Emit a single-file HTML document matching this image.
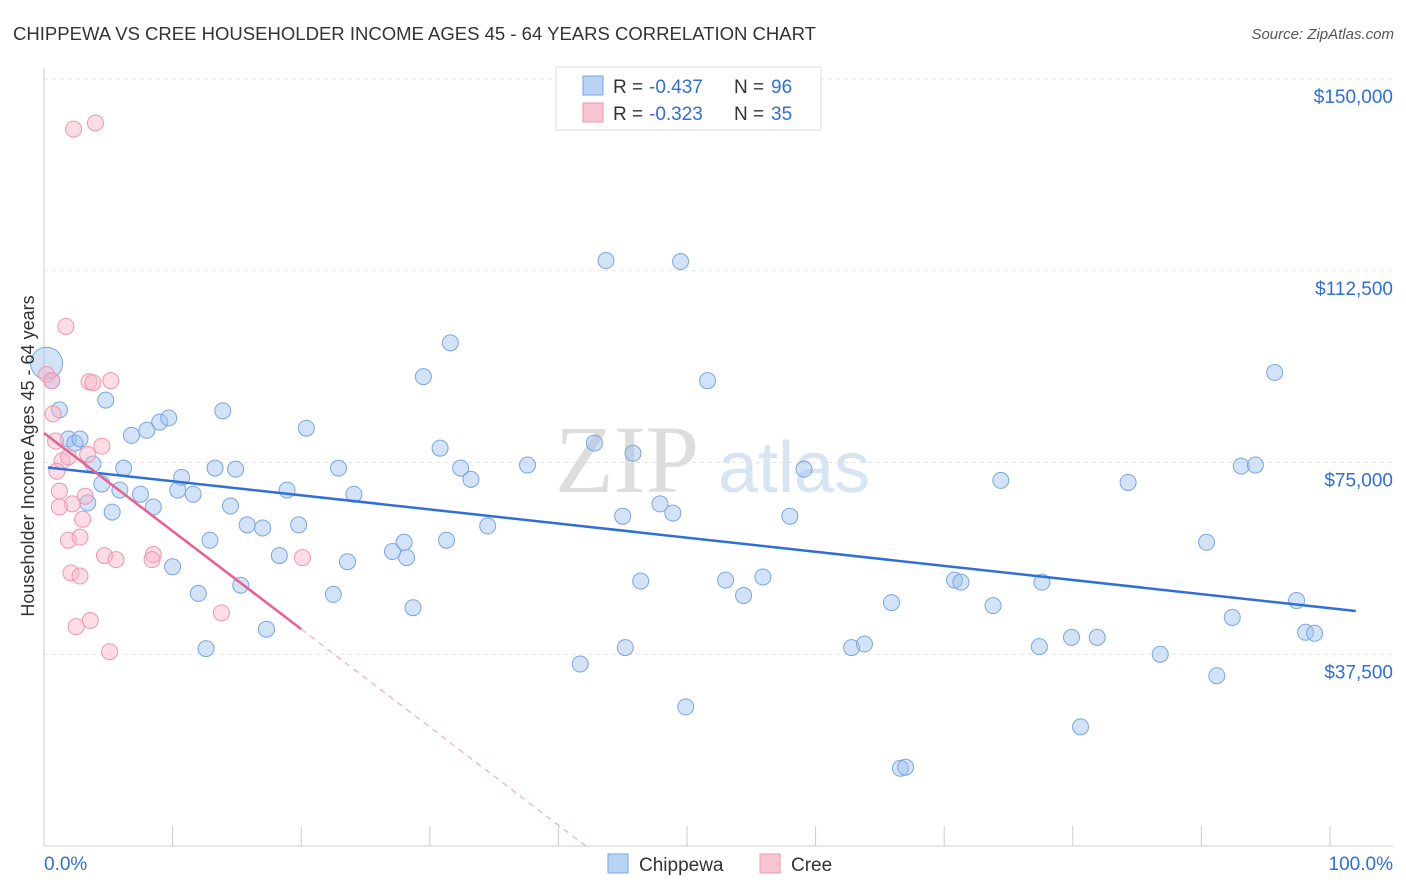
<!DOCTYPE html>
<html><head><meta charset="utf-8"><style>
body{margin:0;background:#fff;font-family:"Liberation Sans",sans-serif;}
svg{display:block}
</style></head><body>
<svg id="chart" width="1406" height="892">
<text x="13" y="40" font-size="18" fill="#333" textLength="803" lengthAdjust="spacingAndGlyphs">CHIPPEWA VS CREE HOUSEHOLDER INCOME AGES 45 - 64 YEARS CORRELATION CHART</text>
<text x="1394" y="39" font-size="15" fill="#555" font-style="italic" text-anchor="end">Source: ZipAtlas.com</text>
<g>
<text x="555" y="492" font-size="96" fill="#ddd" font-family="Liberation Serif,serif">ZIP</text>
<text x="718" y="492" font-size="72" fill="#d6e4f3">atlas</text>
</g>
<g id="grid"></g><g id="axes"></g><g id="marks"></g>
<text transform="translate(34,456) rotate(-90)" font-size="18" fill="#333" text-anchor="middle">Householder Income Ages 45 - 64 years</text>
<g>
<rect x="556" y="67" width="265" height="63" fill="#fff" stroke="#ddd"/>
<rect x="583" y="76" width="20" height="19" fill="#b9d3f5" stroke="#7aa6e0"/>
<rect x="583" y="103" width="20" height="19" fill="#f9c5d3" stroke="#ec97ae"/>
<g font-size="19">
<text x="613" y="93" fill="#333">R =</text><text x="649" y="93" fill="#2f6fd6">-0.437</text>
<text x="734" y="93" fill="#333">N =</text><text x="771" y="93" fill="#2f6fd6">96</text></g>
<g font-size="19">
<text x="613" y="120" fill="#333">R =</text><text x="649" y="120" fill="#2f6fd6">-0.323</text>
<text x="734" y="120" fill="#333">N =</text><text x="771" y="120" fill="#2f6fd6">35</text></g>
</g>
<g>
<rect x="608" y="854" width="20" height="19" fill="#b9d3f5" stroke="#7aa6e0"/>
<text x="639" y="871" font-size="19" fill="#333">Chippewa</text>
<rect x="760" y="854" width="20" height="19" fill="#f9c5d3" stroke="#ec97ae"/>
<text x="791" y="871" font-size="19" fill="#333">Cree</text>
</g>
</svg>
<script>
const yTicks=[37500,75000,112500,150000];
const yTickLabels=["$37,500","$75,000","$112,500","$150,000"];
const xTickLabels=["0.0%","100.0%"];
const blueX=[0.2,0.6,1.2,1.9,2.4,2.8,3.8,4.5,4.8,3.4,5.3,5.9,6.2,6.8,7.5,8.0,8.5,9.0,9.7,10.0,10.7,10.4,11.6,12.0,12.6,12.9,13.3,13.9,14.5,14.9,15.3,15.8,17.0,17.3,18.3,18.9,19.8,20.4,22.5,22.9,23.6,24.1,27.1,28.0,28.2,28.7,29.5,30.8,31.3,31.6,32.4,33.2,34.5,37.6,41.7,42.8,43.7,45.0,45.2,45.8,46.4,47.9,48.9,49.5,49.9,51.6,53.0,54.4,55.9,58.0,59.1,62.8,63.8,65.9,66.6,67.0,70.8,71.3,73.8,74.4,77.4,77.6,79.9,81.9,84.3,86.8,90.4,91.2,92.4,93.1,94.2,95.7,97.4,98.1,98.8,80.6];
const blueY=[94400,91000,85300,79600,78800,79600,74700,70800,87200,67100,65300,69600,73900,80300,68800,81300,66300,82900,83700,54600,72100,69600,68800,49400,38600,59800,73900,85100,66500,73700,51000,62800,62200,42400,56800,69600,62800,81700,49200,73900,55600,68800,57600,59400,56400,46600,91800,77800,59800,98400,73900,71700,62600,74500,35600,78800,114500,64500,38800,76800,51800,66900,65100,114300,27200,91000,52000,49000,52600,64500,73700,38800,39500,47600,15200,15400,52000,51600,47000,71500,39000,51600,40800,40800,71100,37500,59400,33300,44700,74300,74500,92600,48000,41800,41600,23300];
const pinkX=[2.3,4.0,1.7,0.2,0.6,3.5,5.2,3.8,0.7,0.9,1.4,1.9,1.0,4.5,3.4,1.2,3.2,2.2,1.2,3.0,1.9,2.8,4.7,5.6,8.5,8.4,2.1,2.8,20.1,13.8,3.6,2.5,5.1];
const pinkY=[140200,141400,101600,92200,91000,90800,91000,90600,84500,79200,75300,76100,73300,78200,76600,69400,68400,66900,66300,63900,59800,60400,56800,56000,57000,56000,53400,52800,56400,45600,44100,42900,38000];
const blueTrend=[74100,46500];
const pinkTrend=[80760,42420];
const pinkSolidEnd=20;
const NS="http://www.w3.org/2000/svg";
const X0=44,X1=1330,YB=846;
const xs=p=>X0+(X1-X0)*p/100;
const ys=v=>YB-(YB-79)*v/150000;
function mk(t,a,parent){const e=document.createElementNS(NS,t);for(const k in a)e.setAttribute(k,a[k]);parent.appendChild(e);return e;}
const grid=document.getElementById('grid'),axes=document.getElementById('axes'),marks=document.getElementById('marks');
yTicks.forEach((v,i)=>{
 const l=mk('line',{x1:44,x2:1393,y1:ys(v),y2:ys(v),stroke:'#e3e3e3','stroke-dasharray':'4,4'},grid);
 
 
 const t=mk('text',{x:1393,y:ys(v)+24,'font-size':19,fill:'#2f6fd6','text-anchor':'end'},axes);
 t.textContent=yTickLabels[i];
 
 
});
const ax=mk('line',{x1:44,x2:44,y1:68,y2:846,stroke:'#ccc'},axes);


const bx=mk('line',{x1:44,x2:1393,y1:846,y2:846,stroke:'#ccc'},axes);


for(let i=0;i<=10;i++){const t=mk('line',{x1:xs(i*10),x2:xs(i*10),y1:826,y2:846,stroke:'#ccc'},axes);
 
 }
[[0,'start'],[100,'end']].forEach((d,i)=>{const t=mk('text',{x:i?1393:44,y:870,'font-size':19,fill:'#2f6fd6','text-anchor':d[1]},axes);t.textContent=xTickLabels[i];
 
 });
blueX.forEach((x,i)=>{const c=mk('circle',{cx:xs(x),cy:ys(blueY[i]),r:i==0?16:8,fill:'rgba(155,192,240,0.45)',stroke:'#7aa6e0','stroke-width':1},marks);
 
 });
pinkX.forEach((x,i)=>{const c=mk('circle',{cx:xs(x),cy:ys(pinkY[i]),r:8,fill:'rgba(248,180,200,0.45)',stroke:'#ec97ae','stroke-width':1},marks);
 
 });
const bt=mk('line',{x1:xs(0.3),y1:ys(blueTrend[0]+(blueTrend[1]-blueTrend[0])*0.003),x2:xs(102),y2:ys(blueTrend[0]+(blueTrend[1]-blueTrend[0])*1.02),stroke:'#2f6fd6','stroke-width':2.5},marks);


const ps=(pinkTrend[1]-pinkTrend[0])/20;
const pt=mk('line',{x1:xs(0),y1:ys(pinkTrend[0]),x2:xs(pinkSolidEnd),y2:ys(pinkTrend[0]+ps*pinkSolidEnd),stroke:'#e8608c','stroke-width':2.5},marks);


const zx=-pinkTrend[0]/ps;
const pd=mk('line',{x1:xs(pinkSolidEnd),y1:ys(pinkTrend[0]+ps*pinkSolidEnd),x2:xs(zx),y2:ys(0),stroke:'#eeaabf','stroke-width':1.2,'stroke-dasharray':'6,5'},marks);


</script>
</body></html>
